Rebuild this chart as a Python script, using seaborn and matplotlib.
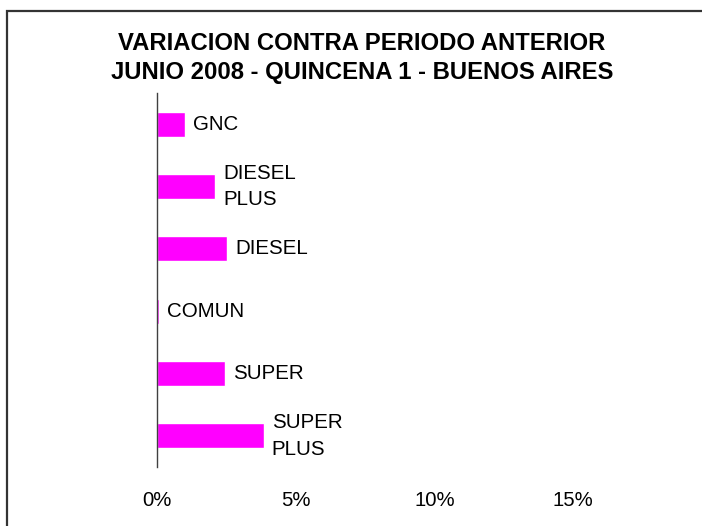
import matplotlib
matplotlib.use("Agg")
import matplotlib.pyplot as plt
from matplotlib.patches import Rectangle
from matplotlib.ticker import PercentFormatter
import seaborn as sns
import pandas as pd

# values
fuels = ["GNC", "DIESEL PLUS", "DIESEL", "COMUN", "SUPER", "SUPER PLUS"]
variation = [0.0100, 0.0209, 0.0252, 0.0007, 0.0245, 0.0385]
x_ticks = [0.0, 0.05, 0.10, 0.15]
title_lines = ["VARIACION CONTRA PERIODO ANTERIOR",
               "JUNIO 2008 - QUINCENA 1 - BUENOS AIRES"]

sns.set_theme(style="white")
plt.rcParams['font.family'] = ['Liberation Sans', 'DejaVu Sans']

df = pd.DataFrame({'fuel': fuels, 'var': variation})

fig = plt.figure(figsize=(7.02, 5.26), dpi=100)
ax = fig.add_axes([157 / 702, 1 - 467 / 526, 416 / 702, 374 / 526])

sns.barplot(data=df, x='var', y='fuel', orient='h', color='#FF00FF',
            saturation=1, width=0.4, ax=ax)

# category names sit right of each bar
for i, (name, val) in enumerate(zip(fuels, variation)):
    ax.annotate(name.replace(' ', '\n'), xy=(val, i), xytext=(5.8, 0),
                textcoords='offset points', ha='left', va='center',
                fontsize=14.8, color='black', linespacing=1.5)

ax.set_xlim(0, 0.15)
ax.set_xticks(x_ticks)
ax.xaxis.set_major_formatter(PercentFormatter(1.0, decimals=0))
ax.tick_params(axis='x', length=0, pad=17, labelsize=14.6, colors='black')
ax.set_yticks([])
ax.set_xlabel('')
ax.set_ylabel('')
for side in ['top', 'right', 'bottom']:
    ax.spines[side].set_visible(False)
ax.spines['left'].set_color('#404040')
ax.spines['left'].set_linewidth(1.0)

fig.text(362 / 702, 1 - 32 / 526, '\n'.join(title_lines), ha='center', va='top',
         fontsize=17.2, fontweight='bold', color='black', linespacing=1.32)

# chart frame, cut off at the right and bottom edge like the source
fig.patches.append(Rectangle((7 / 702, -0.2), 1.2, 1.2 - 11 / 526,
                             transform=fig.transFigure, fill=False,
                             edgecolor='#333333', linewidth=1.6))

fig.savefig('out.png', dpi=100)
